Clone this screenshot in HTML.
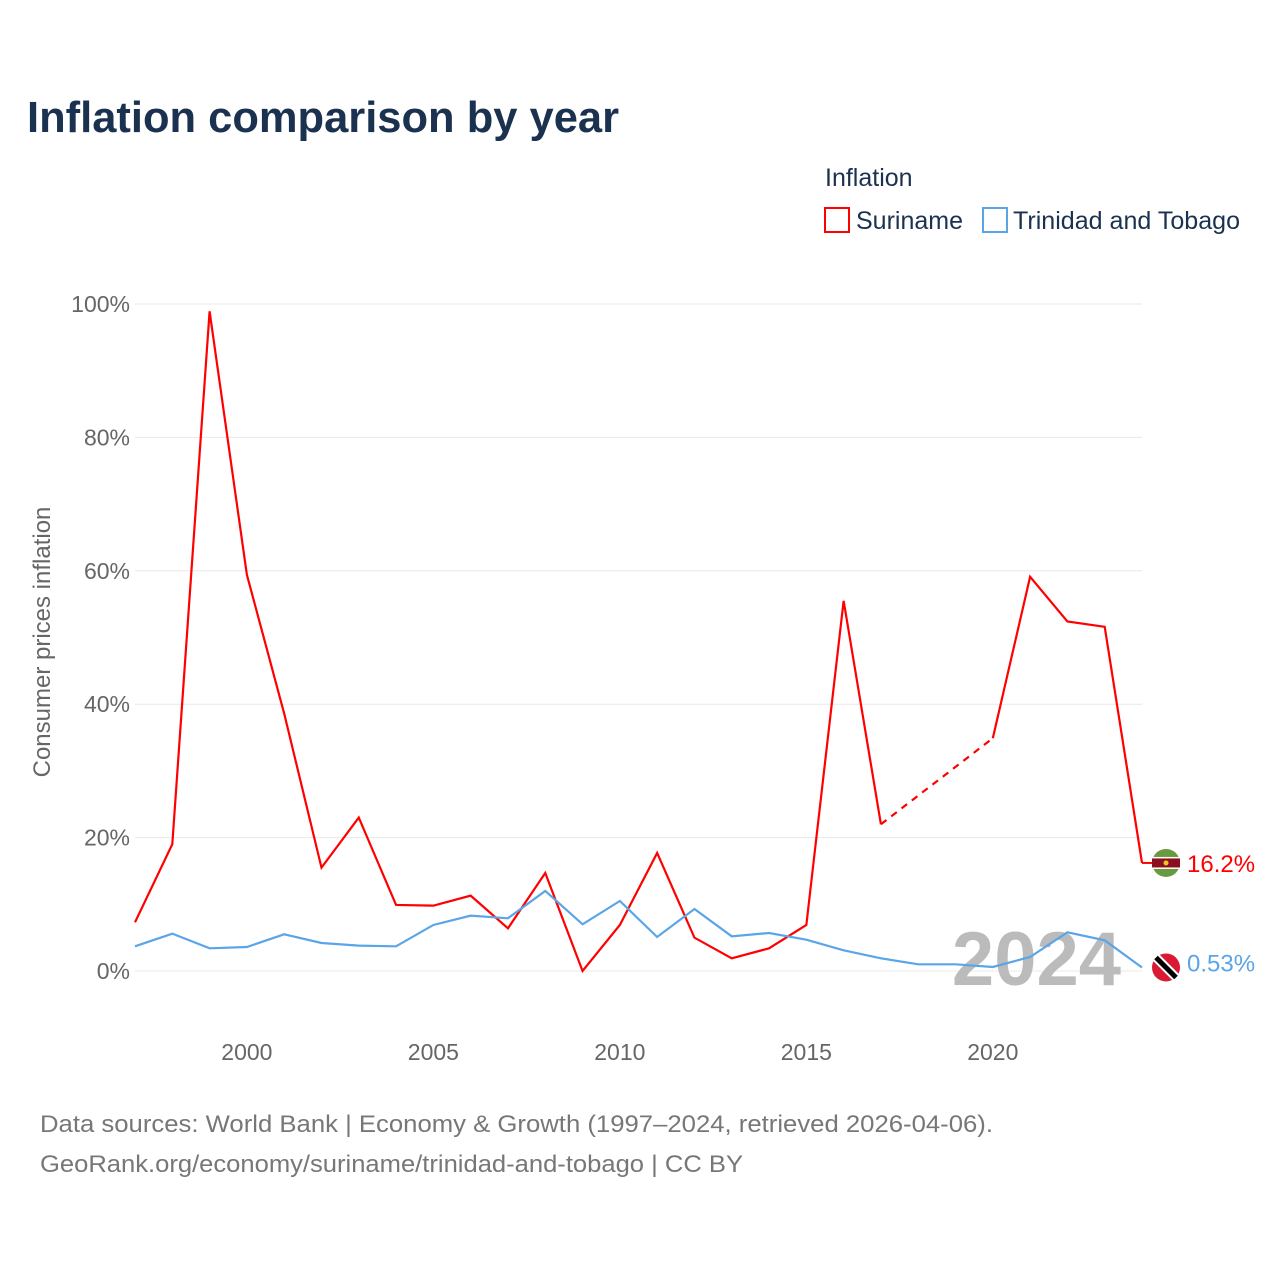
<!DOCTYPE html>
<html><head><meta charset="utf-8"><style>
body{margin:0;background:#fff;font-family:"Liberation Sans",sans-serif;}
svg text{font-family:"Liberation Sans",sans-serif;}
</style></head><body>
<svg width="1280" height="1280" viewBox="0 0 1280 1280">
<text x="27" y="132" font-size="44" font-weight="bold" fill="#1a3150" textLength="592" lengthAdjust="spacingAndGlyphs">Inflation comparison by year</text>
<text x="825" y="186" font-size="25" fill="#1a3150">Inflation</text>
<g><rect x="825" y="208" width="24" height="24" fill="none" stroke="#f00" stroke-width="2"/><text x="856" y="229" font-size="25" fill="#1a3150">Suriname</text></g>
<g><rect x="983" y="208" width="24" height="24" fill="none" stroke="#5aa5e8" stroke-width="2"/><text x="1013" y="229" font-size="25" fill="#1a3150" textLength="227" lengthAdjust="spacingAndGlyphs">Trinidad and Tobago</text></g>
<g id="grid"></g>
<g id="yt"></g>
<g id="xt"></g>
<text x="1121" y="985" font-size="76" font-weight="bold" fill="#bbb" text-anchor="end">2024</text>
<text transform="translate(50,642) rotate(-90)" font-size="24" fill="#666" text-anchor="middle">Consumer prices inflation</text>
<g id="series"></g>
<text x="40" y="1132" font-size="24" fill="#777" textLength="953" lengthAdjust="spacingAndGlyphs">Data sources: World Bank | Economy &amp; Growth (1997–2024, retrieved 2026-04-06).</text>
<text x="40" y="1172" font-size="24" fill="#777" textLength="703" lengthAdjust="spacingAndGlyphs">GeoRank.org/economy/suriname/trinidad-and-tobago | CC BY</text>
</svg>
<script>
const years=[1997,1998,1999,2000,2001,2002,2003,2004,2005,2006,2007,2008,2009,2010,2011,2012,2013,2014,2015,2016,2017,2018,2019,2020,2021,2022,2023,2024];
const suriname=[7.3,19,98.9,59.4,38.6,15.5,23,9.9,9.8,11.3,6.4,14.7,0,6.9,17.7,5,1.9,3.4,6.9,55.5,22,null,null,34.9,59.1,52.4,51.6,16.2];
const trinidad=[3.7,5.6,3.4,3.6,5.5,4.2,3.8,3.7,6.9,8.3,7.9,12,7,10.5,5.1,9.3,5.2,5.7,4.7,3.1,1.9,1,1,0.6,2.1,5.8,4.6,0.53];
const yTicks=[0,20,40,60,80,100];
const xTicks=[2000,2005,2010,2015,2020];
const NS='http://www.w3.org/2000/svg';
const x=v=>135+(v-1997)*(1142-135)/27;
const y=v=>971-v*(971-304)/100;
function el(t,a,p){const e=document.createElementNS(NS,t);for(const k in a)e.setAttribute(k,a[k]);p.appendChild(e);return e;}
const g=document.getElementById('grid'),yt=document.getElementById('yt'),xt=document.getElementById('xt'),s=document.getElementById('series');
yTicks.forEach(t=>{const l=el('line',{x1:135,x2:1142,y1:y(t),y2:y(t),stroke:'#e8e8e8','stroke-width':1},g);


const tx=el('text',{x:130,y:y(t)+8,'font-size':23,fill:'#666','text-anchor':'end'},yt);tx.textContent=t+'%';

});
xTicks.forEach(t=>{const tx=el('text',{x:x(t),y:1060,'font-size':23,fill:'#666','text-anchor':'middle'},xt);tx.textContent=t;

});
function draw(vals,color,name){
 let segs=[],cur=[];let last=null;
 vals.forEach((v,i)=>{if(v==null){if(cur.length)segs.push(cur);cur=[];}else{
  if(cur.length===0&&last!=null&&last!==i-1){const d=el('line',{x1:x(years[last]),y1:y(vals[last]),x2:x(years[i]),y2:y(v),stroke:color,'stroke-width':2.2,'stroke-dasharray':'7,6'},s);
  
  }
  cur.push(x(years[i])+','+y(v));last=i;}});
 if(cur.length)segs.push(cur);
 segs.forEach(c=>{const p=el('polyline',{points:c.join(' '),fill:'none',stroke:color,'stroke-width':2.2},s);
 
 });
}
draw(suriname,'#f00','suriname');
draw(trinidad,'#5aa5e8','trinidad');
const sv=suriname[27],tv=trinidad[27];
const f1=el('g',{},s);


const cy1=y(sv);
el('line',{x1:1142,x2:1152,y1:cy1,y2:cy1,stroke:'#f00','stroke-width':2},f1);
el('circle',{cx:1166,cy:cy1,r:14,fill:'#6a9a3f'},f1);
el('rect',{x:1152,y:cy1-6,width:28,height:12,fill:'#fff'},f1);
el('rect',{x:1152,y:cy1-4.5,width:28,height:9,fill:'#8a0f1f'},f1);
el('circle',{cx:1166,cy:cy1,r:2.5,fill:'#ecc81d'},f1);
const l1=el('text',{x:1187,y:cy1+9,'font-size':24,fill:'#f00'},s);l1.textContent=sv+'%';


const f2=el('g',{},s);


const cy2=y(tv);
el('circle',{cx:1166,cy:cy2,r:14,fill:'#da1a35'},f2);
el('line',{x1:1156,y1:cy2-10,x2:1176,y2:cy2+10,stroke:'#fff','stroke-width':9},f2);
el('line',{x1:1156,y1:cy2-10,x2:1176,y2:cy2+10,stroke:'#000','stroke-width':5},f2);
const l2=el('text',{x:1187,y:cy2+4,'font-size':24,fill:'#5aa5e8'},s);l2.textContent=tv+'%';


</script>
</body></html>
